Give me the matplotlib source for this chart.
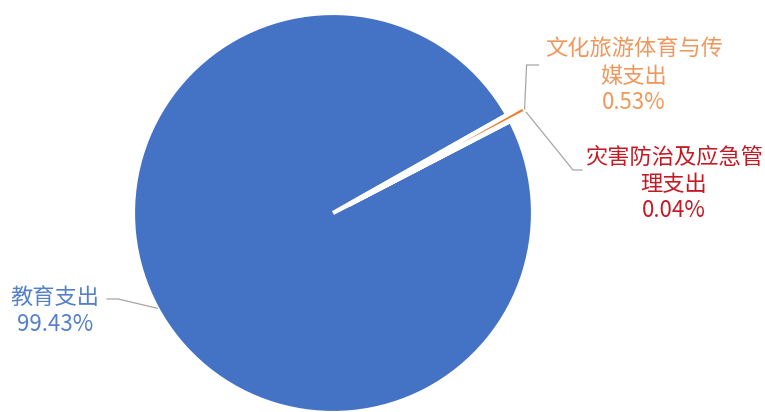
import numpy as np
import matplotlib.pyplot as plt

plt.rcParams['font.family'] = ['Noto Sans CJK SC', 'DejaVu Sans']

# data
categories = ['教育支出', '文化旅游体育与传\n媒支出', '灾害防治及应急管\n理支出']
shares = [99.43, 0.53, 0.04]
share_labels = ['99.43%', '0.53%', '0.04%']

slice_colors = ['#4472C4', '#ED7D31', '#C00000']
text_colors = ['#5580C8', '#F0975C', '#C41A24']

W, H = 765, 412
cx, cy, R = 333, H - 213, 200

fig = plt.figure(figsize=(W / 100, H / 100), dpi=100)
ax = fig.add_axes([0, 0, 1, 1])

wedges, _ = ax.pie(shares, colors=slice_colors, startangle=27.4, counterclock=False,
                   center=(cx, cy), radius=R, explode=[0, 18, 18],
                   wedgeprops=dict(edgecolor='white', linewidth=3))
ax.set_xlim(0, W)
ax.set_ylim(0, H)
ax.axis('off')


# outer point of a wedge at its middle angle
def wedgeTip(w, scale=1.0):
    ang = np.deg2rad((w.theta1 + w.theta2) / 2)
    x0, y0 = w.center
    return x0 + w.r * scale * np.cos(ang), y0 + w.r * scale * np.sin(ang)


lead = dict(color='#A6A6A6', lw=0.9)

# 教育支出
bx, by = wedgeTip(wedges[0])
ax.plot([107, 118, bx], [H - 299, H - 299, by], **lead)
# 文化旅游体育与传媒支出
ox, oy = wedgeTip(wedges[1])
ax.plot([ox, ox + 2, ox + 14], [oy, H - 65, H - 65], **lead)
# 灾害防治及应急管理支出
rx, ry = wedgeTip(wedges[2])
ax.plot([rx, 573, 582], [ry, H - 170, H - 170], **lead)

label_pos = [(55, H - 311), (634, H - 76), (674, H - 184)]
for cat, pct, pos, col in zip(categories, share_labels, label_pos, text_colors):
    ax.text(pos[0], pos[1], cat + '\n' + pct, ha='center', va='center',
            fontsize=16, color=col, linespacing=1.2)

fig.savefig('out.png', dpi=100)
